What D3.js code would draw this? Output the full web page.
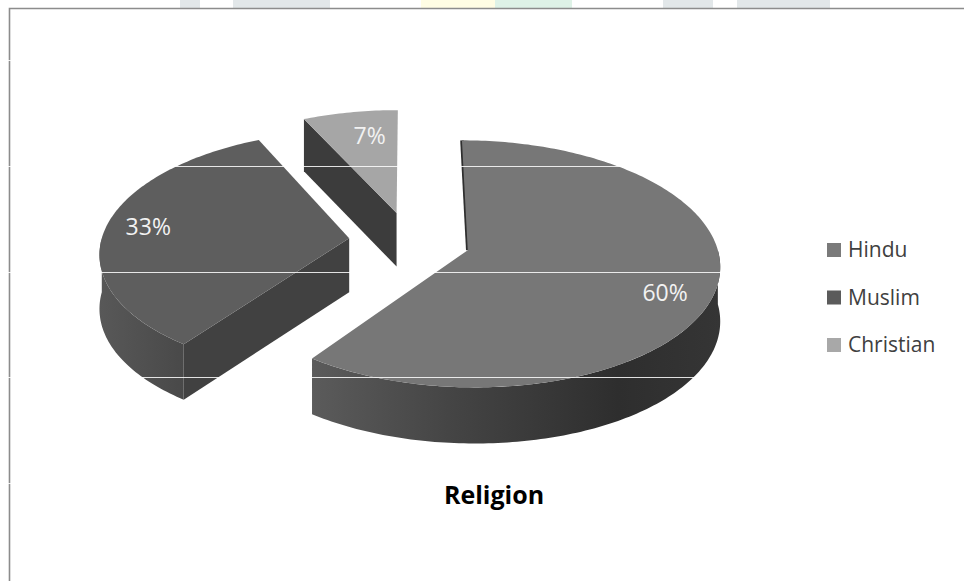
<!DOCTYPE html>
<html>
<head>
<meta charset="utf-8">
<script src="https://cdn.jsdelivr.net/npm/d3@7"></script>
<style>
  html, body { margin: 0; padding: 0; background: #fff; }
  svg { display: block; }
</style>
</head>
<body>
<svg id="chart" width="964" height="581"></svg>
<script>
// Religion breakdown (share of respondents, %)
const categories = ["Hindu", "Muslim", "Christian"];
const values = [60, 33, 7];
const valueLabels = ["60%", "33%", "7%"];
const topColors = ["#777777", "#5e5e5e", "#a6a6a6"];
const legendColors = ["#7a7a7a", "#5b5b5b", "#a8a8a8"];
const chartTitle = "Religion";

const W = 964, H = 581;
const svg = d3.select("#chart");
const defs = svg.append("defs");

// faint marks bleeding in above the frame
const topMarks = [
  { x0: 180, x1: 200, fill: "#e2e7e9" },
  { x0: 233, x1: 330, fill: "#e2e7e9" },
  { x0: 421, x1: 495, fill: "#fffde4" },
  { x0: 495, x1: 572, fill: "#def2e7" },
  { x0: 663, x1: 713, fill: "#e2e7e9" },
  { x0: 737, x1: 830, fill: "#e2e7e9" }
];
svg.selectAll("rect.mark").data(topMarks).join("rect")
  .attr("class", "mark")
  .attr("x", d => d.x0).attr("y", 0)
  .attr("width", d => d.x1 - d.x0).attr("height", 8)
  .attr("fill", d => d.fill);

// chart frame
svg.append("path")
  .attr("d", `M9.5,${H} L9.5,8.5 L${W},8.5`)
  .attr("fill", "none").attr("stroke", "#8c8c8c").attr("stroke-width", 1.6);

// ---- 3D pie ----
const cx = 409.5, cy = 241;          // projected pie centre
const rx = 248, ry = 120;            // ellipse radii
const persp = 0.11;                  // perspective strength (near side larger)
const explodeBy = 0.245;             // slice offset, fraction of radius
const radius = d3.scaleLinear().domain([0, 1]).range([0, 1]);

function project(u, v) {
  const w = 1 / (1 - persp * v);
  return { x: cx + rx * u * w, y: cy + ry * v * w, w };
}
function thickness(w) { return 54 * Math.pow(w, 0.3); }

const pie = d3.pie().sort(null).startAngle(0).endAngle(2 * Math.PI);
const arcs = pie(values).map((a, i) => {
  const mid = (a.startAngle + a.endAngle) / 2;
  const ou = explodeBy * Math.sin(mid), ov = -explodeBy * Math.cos(mid);
  const pt = (ang, r = 1) => project(ou + radius(r) * Math.sin(ang), ov - radius(r) * Math.cos(ang));
  return { ...a, i, mid, pt, apex: project(ou, ov) };
});

function sample(a0, a1) {
  const n = Math.max(2, Math.ceil((a1 - a0) / (Math.PI / 180)));
  return d3.range(n + 1).map(j => a0 + (a1 - a0) * j / n);
}
const down = p => ({ x: p.x, y: p.y + thickness(p.w) });
const line = d3.line().x(p => p.x).y(p => p.y);

const wallStops = [
  [{ o: 0, c: "#5b5b5b" }, { o: 0.35, c: "#444444" }, { o: 0.75, c: "#2e2e2e" }, { o: 1, c: "#353535" }],
  [{ o: 0, c: "#585858" }, { o: 1, c: "#494949" }],
  [{ o: 0, c: "#3d3d3d" }, { o: 1, c: "#3d3d3d" }]
];
const cutColors = ["#2e2e2e", "#414141", "#3c3c3c"];

const pieG = svg.append("g");
// back-to-front order
const order = [2, 1, 0];
order.forEach(idx => {
  const s = arcs[idx];
  const g = pieG.append("g");

  // radial cut faces facing the viewer
  [[s.startAngle, -Math.sin(s.startAngle)], [s.endAngle, Math.sin(s.endAngle)]].forEach(([ang, facing]) => {
    if (facing > 0.01) {
      const p = s.pt(ang);
      g.append("path")
        .attr("d", line([s.apex, p, down(p), down(s.apex)]) + "Z")
        .attr("fill", cutColors[idx]);
    }
  });

  // curved outer wall on the near half
  const w0 = Math.max(s.startAngle, Math.PI / 2), w1 = Math.min(s.endAngle, 3 * Math.PI / 2);
  if (w1 > w0) {
    const topPts = sample(w0, w1).map(a => s.pt(a));
    const pts = topPts.concat(topPts.slice().reverse().map(down));
    const xs = d3.extent(pts, p => p.x);
    const gid = "wall" + idx;
    const grad = defs.append("linearGradient").attr("id", gid)
      .attr("gradientUnits", "userSpaceOnUse")
      .attr("x1", xs[0]).attr("x2", xs[1]).attr("y1", 0).attr("y2", 0);
    grad.selectAll("stop").data(wallStops[idx]).join("stop")
      .attr("offset", d => d.o).attr("stop-color", d => d.c);
    g.append("path").attr("d", line(pts) + "Z").attr("fill", `url(#${gid})`);
  }

  // thin edge of the slice's leading cut face
  if (Math.abs(Math.sin(s.startAngle)) < 0.01) {
    g.append("path")
      .attr("d", line([s.apex, s.pt(s.startAngle)]))
      .attr("stroke", "#2f2f2f").attr("stroke-width", 3.5).attr("fill", "none");
  }

  // top face
  const top = [s.apex].concat(sample(s.startAngle, s.endAngle).map(a => s.pt(a)));
  g.append("path").attr("d", line(top) + "Z").attr("fill", topColors[idx]);
});

// value labels, nudged off the slice mid-line as the layout places them
const labelNudge = [[0, 11], [-6, -3], [11, 4]];
svg.append("g").selectAll("text").data(arcs).join("text")
  .attr("x", d => d.pt(d.mid, 0.8).x + labelNudge[d.i][0])
  .attr("y", d => d.pt(d.mid, 0.8).y + labelNudge[d.i][1])
  .attr("text-anchor", "middle")
  .attr("dominant-baseline", "central")
  .attr("font-family", "'Open Sans', 'Noto Sans', sans-serif")
  .attr("font-size", 23)
  .attr("fill", "#f2f2f2")
  .text((d, i) => valueLabels[i]);

// legend
const legend = svg.append("g").attr("transform", "translate(827,242)");
const row = legend.selectAll("g").data(categories).join("g")
  .attr("transform", (d, i) => `translate(0,${i * 47.5})`);
row.append("rect").attr("width", 14).attr("height", 14).attr("y", 1)
  .attr("fill", (d, i) => legendColors[i]);
row.append("text").attr("x", 21).attr("y", 15)
  .attr("font-family", "'Open Sans', 'Noto Sans', sans-serif")
  .attr("font-size", 21).attr("fill", "#404040")
  .text(d => d);

// title
svg.append("text")
  .attr("x", 494).attr("y", 504)
  .attr("text-anchor", "middle")
  .attr("font-family", "'Open Sans', 'Noto Sans', sans-serif")
  .attr("font-weight", "bold").attr("font-size", 25)
  .attr("fill", "#000")
  .text(chartTitle);

// fine white rules crossing the page
const rules = [60, 166, 272, 377, 483];
svg.append("g").selectAll("line").data(rules).join("line")
  .attr("x1", 0).attr("x2", W)
  .attr("y1", d => d + 0.5).attr("y2", d => d + 0.5)
  .attr("stroke", "#ffffff").attr("stroke-width", 1.2).attr("opacity", 0.85);
</script>
</body>
</html>
